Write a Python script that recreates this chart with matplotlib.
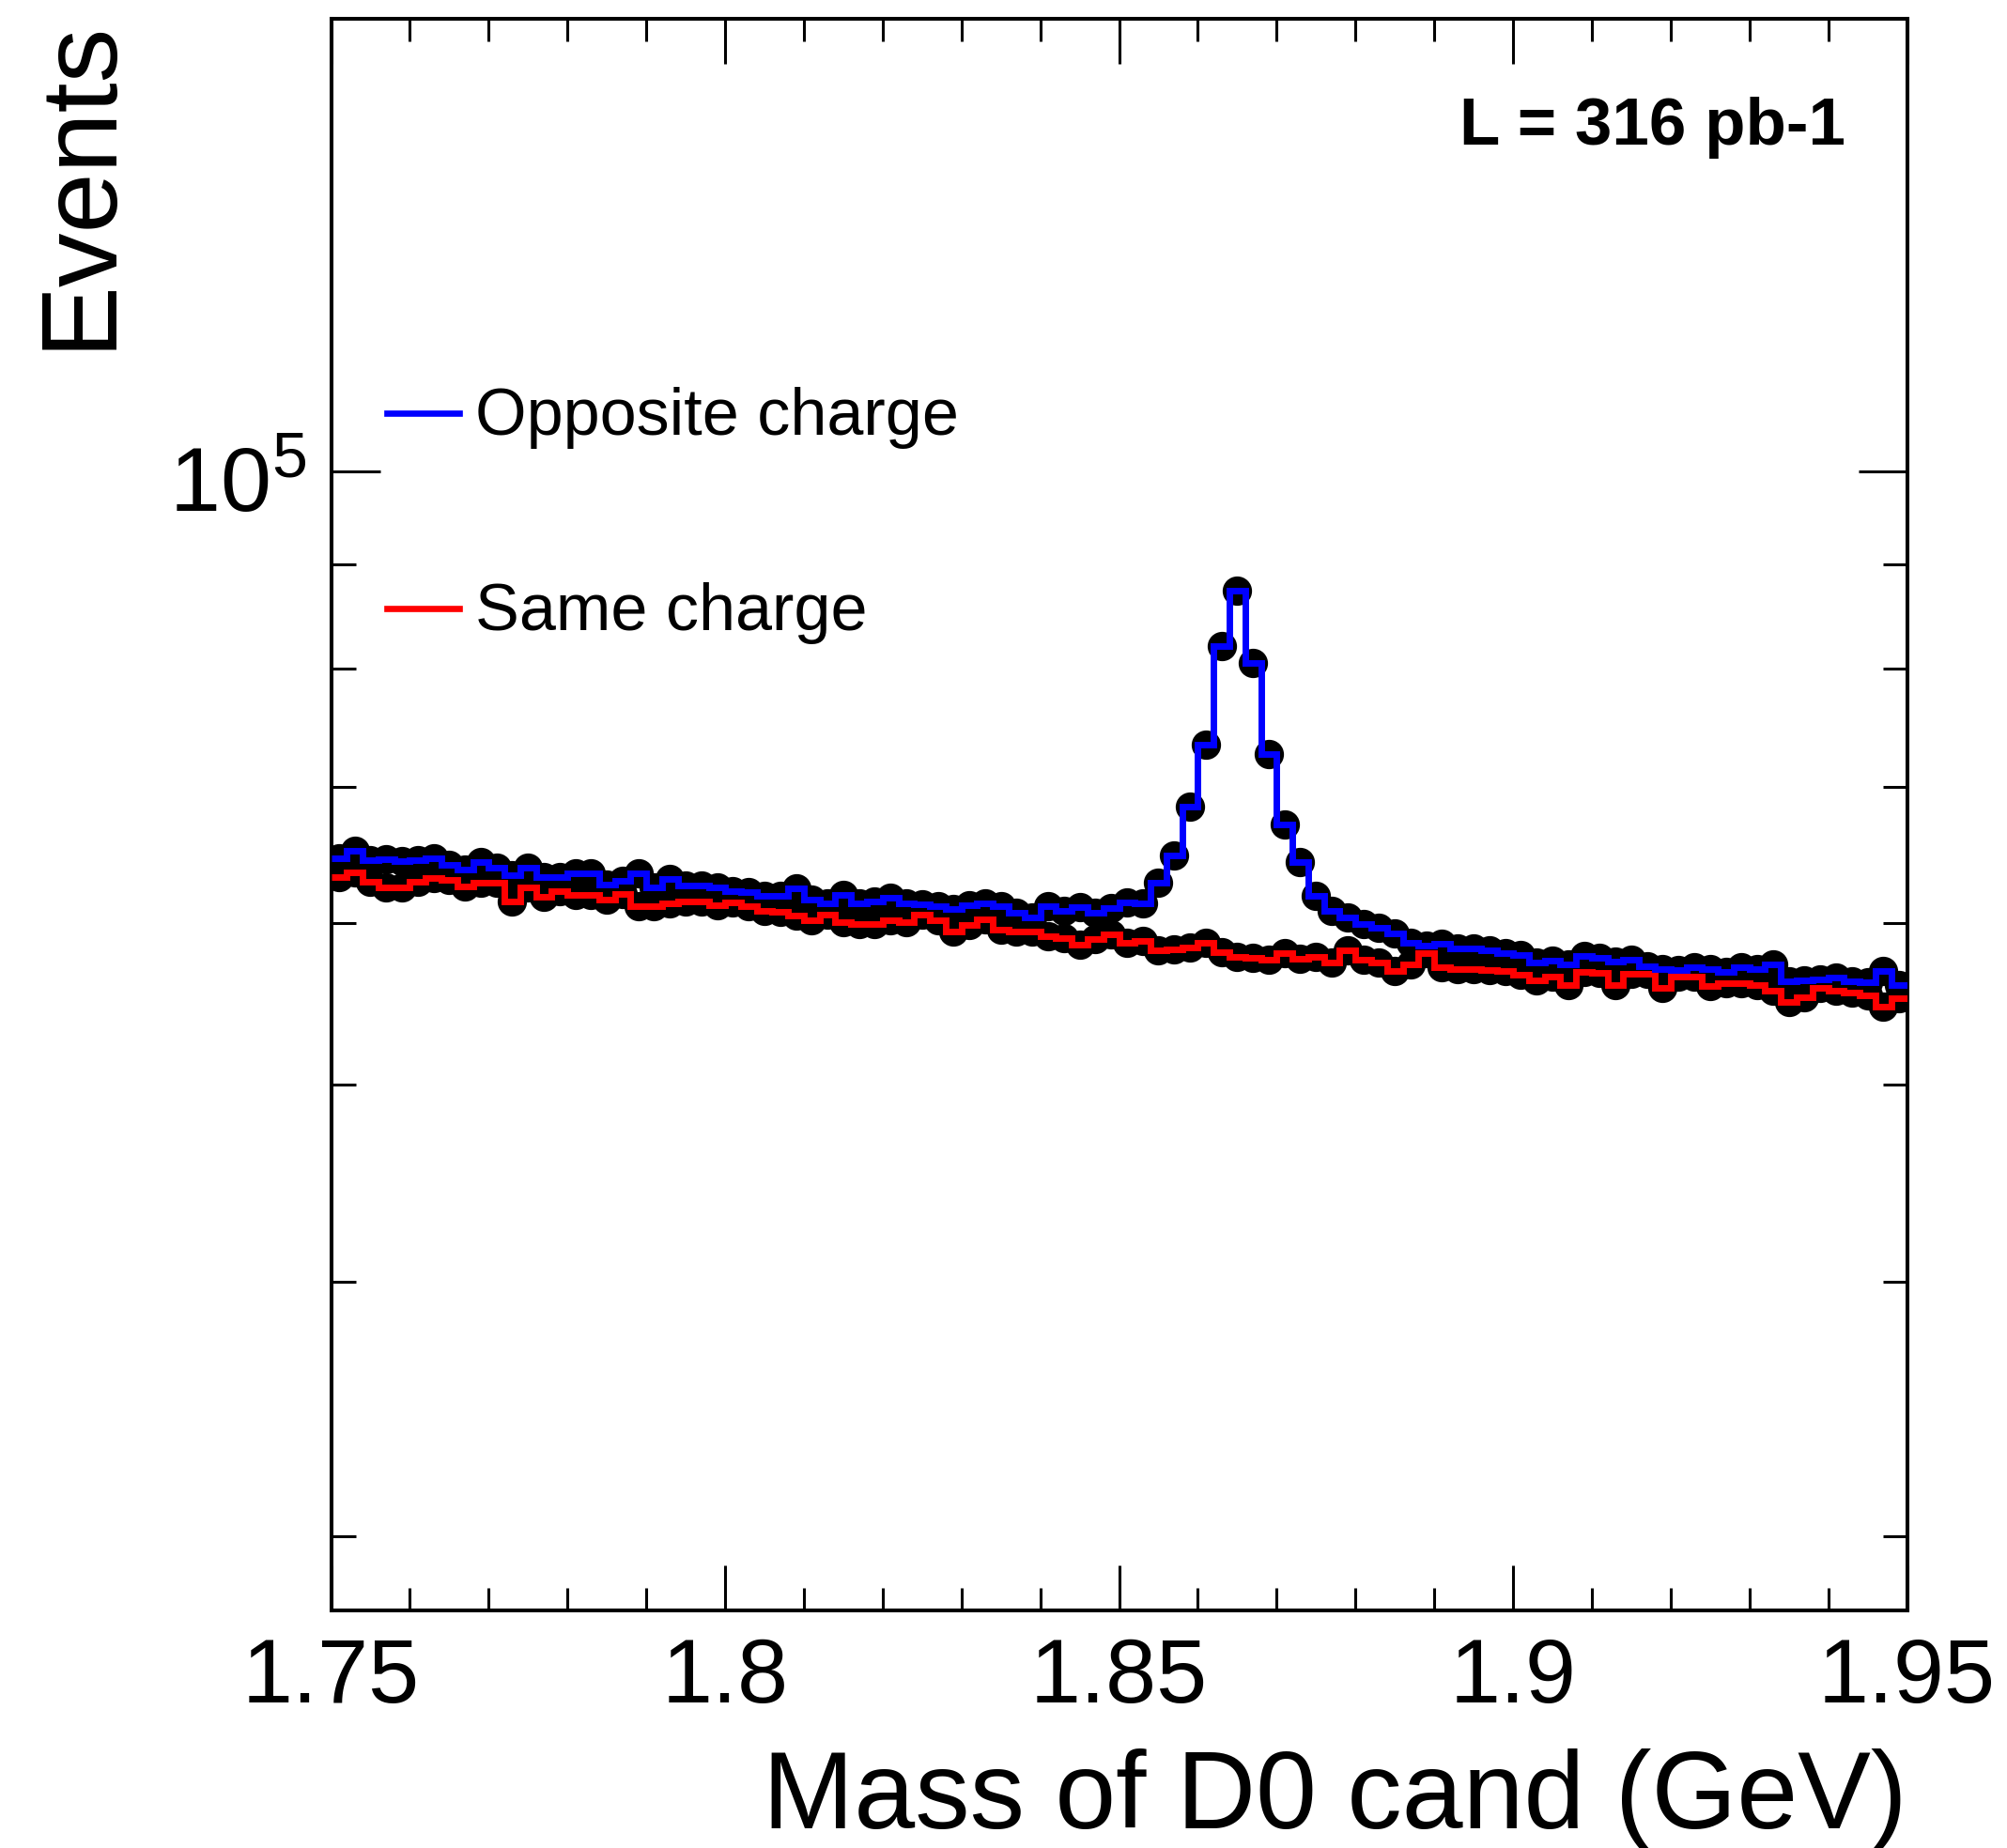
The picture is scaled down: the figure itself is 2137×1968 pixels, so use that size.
import numpy as np
import matplotlib
matplotlib.use('Agg')
import matplotlib.pyplot as plt
from matplotlib.lines import Line2D
from matplotlib.ticker import MultipleLocator, FixedLocator, NullFormatter

plt.rcParams['font.family'] = ['Liberation Sans', 'DejaVu Sans']
plt.rcParams['mathtext.fontset'] = 'custom'
plt.rcParams['mathtext.rm'] = 'Liberation Sans'

# histogram binning (GeV)
mass_lo = 1.75
mass_hi = 1.95
n_bins = 100

# events per bin
opposite_charge = [
    64590, 65090, 64410, 64470, 64360, 64410, 64590, 64090, 63720, 64310,
    63860, 63340, 63860, 63230, 63230, 63450, 63450, 62670, 62960, 63450,
    62450, 63050, 62600, 62600, 62450, 62230, 62160, 61860, 61860, 62380,
    61580, 61350, 61950, 61350, 61510, 61730, 61350, 61290, 61140, 60990,
    61250, 61350, 61140, 60700, 60390, 61140, 60860, 61070, 60700, 61030,
    61420, 61350, 62775, 64770, 68415, 73415, 82100, 87415, 80490, 72660,
    67070, 64280, 61850, 60810, 60380, 59955, 59700, 59325, 58700, 58490,
    58600, 58330, 58290, 58180, 57980, 57875, 57365, 57505, 57265, 57835,
    57670, 57425, 57570, 57160, 56960, 56900, 57060, 56960, 56760, 57100,
    56960, 57265, 56155, 56260, 56300, 56420, 56155, 56095, 56820, 55960,
]
same_charge = [
    63230, 63570, 62900, 62450, 62450, 62900, 63120, 63010, 62560, 62790,
    62790, 61470, 62450, 61800, 62230, 61950, 61950, 61640, 62010, 61140,
    61140, 61350, 61470, 61470, 61250, 61420, 61140, 60860, 60770, 60500,
    60180, 60600, 60070, 59920, 59960, 60180, 60070, 60560, 60180, 59430,
    59850, 60280, 59540, 59430, 59430, 59110, 59010, 58540, 58950, 59220,
    58700, 58800, 58170, 58240, 58380, 58660, 58070, 57770, 57700, 57570,
    57970, 57640, 57770, 57360, 58170, 57570, 57400, 56860, 57265, 57980,
    57060, 56960, 56960, 56900, 56820, 56620, 56260, 56500, 55960, 56760,
    56700, 55960, 56660, 56660, 55760, 56460, 56500, 55900, 56060, 56060,
    55960, 55570, 54890, 55180, 55760, 55570, 55470, 55275, 54600, 55085,
]

xtick_vals = [1.75, 1.8, 1.85, 1.9, 1.95]
xtick_labels = ['1.75', '1.8', '1.85', '1.9', '1.95']

edges = np.linspace(mass_lo, mass_hi, n_bins + 1)
centers = 0.5 * (edges[:-1] + edges[1:])

W, H = 2137, 1968
fig = plt.figure(figsize=(W / 100, H / 100), dpi=100)
ax = fig.add_axes([352.5 / W, 1 - 1715 / H, 1678 / W, 1695 / H])

# points first, step lines drawn over them
ax.plot(centers, opposite_charge, 'o', color='black', ms=21.5, zorder=2)
ax.plot(centers, same_charge, 'o', color='black', ms=21.5, zorder=2)
ax.stairs(same_charge, edges, baseline=None, color='#ff0000', lw=5, zorder=3)
ax.stairs(opposite_charge, edges, baseline=None, color='#0000ff', lw=5, zorder=4)

ax.set_yscale('log')
ax.set_xlim(mass_lo, mass_hi)
ax.set_ylim(27580, 166800)

ax.set_xticks(xtick_vals, labels=xtick_labels)
ax.xaxis.set_minor_locator(MultipleLocator(0.01))
ax.yaxis.set_major_locator(FixedLocator([1e5]))
ax.set_yticklabels([''])
ax.yaxis.set_minor_locator(FixedLocator([3e4, 4e4, 5e4, 6e4, 7e4, 8e4, 9e4]))
ax.yaxis.set_minor_formatter(NullFormatter())

ax.tick_params(axis='both', which='both', direction='in', top=True, right=True,
               width=2.2, labelsize=70)
ax.tick_params(axis='x', which='major', length=34.6, pad=20)
ax.tick_params(axis='x', which='minor', length=17.3)
ax.tick_params(axis='y', which='major', length=37.4, pad=21)
ax.tick_params(axis='y', which='minor', length=18.7)
for sp in ax.spines.values():
    sp.set_linewidth(2.9)

# y tick label placed by hand so the exponent sits like the original
fig.text(326 / W, 1 - 545 / H, '$\\mathregular{10^{5}}$', fontsize=70,
         ha='right', va='baseline')

fig.text(2031 / W, 1 - 1947 / H, 'Mass of D0 cand (GeV)', fontsize=84,
         ha='right', va='baseline')
fig.text(116 / W, 1 - 20 / H, 'Events', fontsize=83, rotation=90,
         rotation_mode='anchor', ha='right', va='baseline')
fig.text(1965 / W, 1 - 154 / H, 'L = 316 pb-1', fontsize=51, fontweight='bold',
         ha='right', va='baseline')

# legend entries
for y_px, col, name in [(440, '#0000ff', 'Opposite charge'), (648, '#ff0000', 'Same charge')]:
    fig.add_artist(Line2D([411.6 / W, 488.6 / W], [1 - y_px / H, 1 - y_px / H],
                          color=col, lw=4.8, transform=fig.transFigure))
    fig.text(506 / W, 1 - (y_px + 23) / H, name, fontsize=50.5, ha='left', va='baseline')

fig.savefig('out.png', dpi=100)
